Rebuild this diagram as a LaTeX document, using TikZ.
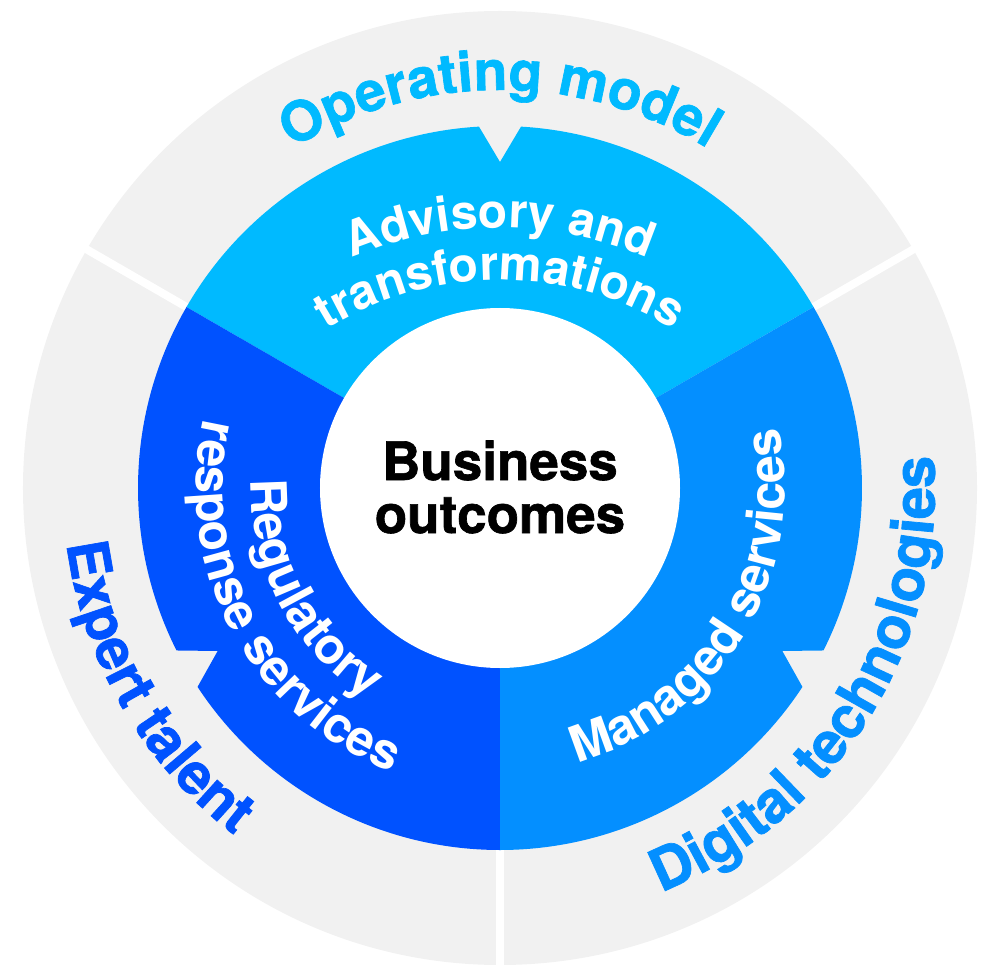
\documentclass[tikz,border=0pt]{standalone}
\usepackage{fontspec}
\setmainfont{TeX Gyre Heros}
\newfontface\heavyface{TeX Gyre Heros Bold}[FakeBold=1.2]
\usetikzlibrary{decorations.text}

\definecolor{ringgray}{RGB}{241,241,241}
\definecolor{skyblue}{RGB}{0,186,255}
\definecolor{midblue}{RGB}{4,143,255}
\definecolor{deepblue}{RGB}{0,82,255}

\newcommand\ringsize{\fontsize{55}{60}\selectfont}
\newcommand\segsize{\fontsize{48}{52}\selectfont}
\newcommand\sidesize{\fontsize{50}{54}\selectfont}

\begin{document}
\begin{tikzpicture}[x=1pt,y=1pt,
  arctext/.style={decorate, decoration={text along path, text align=center, text={#1}}},
  gap/.style={white, line width=8pt}]
\useasboundingbox (-500,-478) rectangle (481,488);

% outer grey ring with three white separators
\fill[ringgray] (0,0) circle[radius=477];
\foreach \a in {30,150,270}
  \draw[gap] (\a:300) -- (\a:490);

% three coloured segments, each with a V notch in the middle of its rim
\def\ro{362}
\def\rn{326}
\foreach \a/\c in {30/skyblue,150/deepblue,270/midblue}{
  \fill[\c] (0,0) -- (\a:\ro)
    arc[start angle=\a, end angle=\a+56.67, radius=\ro]
    -- ({\a+60}:\rn) -- ({\a+63.33}:\ro)
    arc[start angle=\a+63.33, end angle=\a+120, radius=\ro] -- cycle;
}

% white hub and centre label
\node[circle, fill=white, minimum size=360pt, inner sep=0pt] (hub) at (0,0) {};
\node[align=center, font=\heavyface\fontsize{53}{53}\selectfont] (core) at (0,1) {Business\\outcomes};

% labels on the grey ring
\path[arctext={|\heavyface\ringsize\color{skyblue}|Operating model}]
  (140:398) arc[start angle=140, end angle=40, radius=398];
\path[arctext={|\heavyface\fontsize{57}{60}\selectfont\color{deepblue}|Expert talent}]
  (160:437) arc[start angle=160, end angle=260, radius=437];
\path[arctext={|\heavyface\fontsize{58}{60}\selectfont\color{midblue}|Digital technologies}]
  (268:435) arc[start angle=268, end angle=388, radius=435];

% labels inside the coloured segments
\path[arctext={|\bfseries\segsize\color{white}|Advisory and}]
  ([shift={(0,-120)}]150:380) arc[start angle=150, end angle=30, radius=380];
\path[arctext={|\bfseries\segsize\color{white}|transformations}]
  ([shift={(0,-120)}]150:328) arc[start angle=150, end angle=30, radius=328];
\path[arctext={|\bfseries\sidesize\color{white}|Regulatory}]
  (158:249) arc[start angle=158, end angle=258, radius=249];
\path[arctext={|\bfseries\sidesize\color{white}|response services}]
  (148:304) arc[start angle=148, end angle=268, radius=304];
\path[arctext={|\bfseries\sidesize\color{white}|Managed services}]
  (269:285) arc[start angle=269, end angle=389, radius=285];
\end{tikzpicture}
\end{document}
